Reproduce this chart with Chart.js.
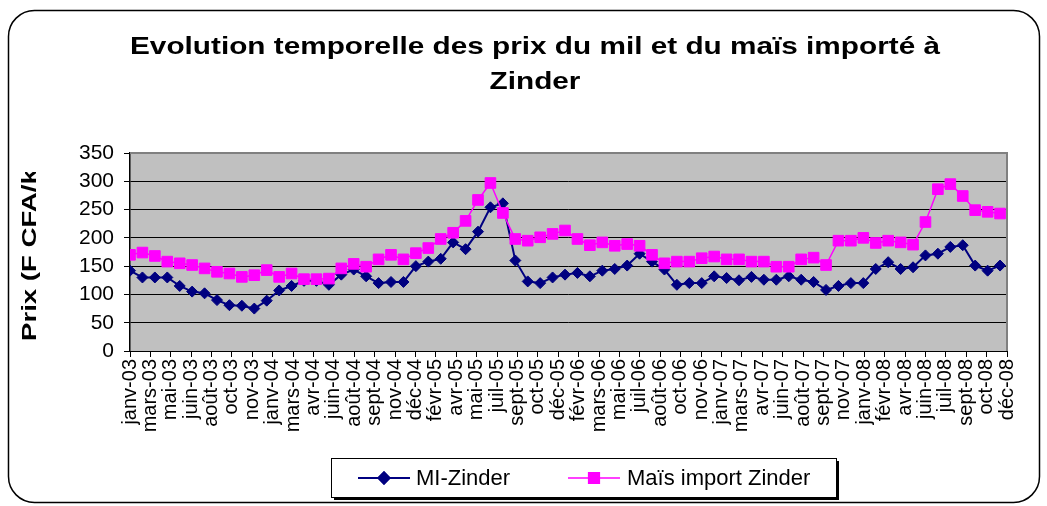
<!DOCTYPE html>
<html><head><meta charset="utf-8">
<script src="https://cdn.jsdelivr.net/npm/chart.js@4/dist/chart.umd.min.js"></script>
<style>html,body{margin:0;padding:0;background:#fff;overflow:hidden}#wrap{width:1047px;height:506px}</style>
</head><body><div id="wrap"><canvas id="c" width="1047" height="506"></canvas></div>
<script>
const titleLines = ['Evolution temporelle des prix du mil et du maïs importé à', 'Zinder'];
const yAxisTitle = 'Prix (F CFA/kg)';
const seriesNames = ['MI-Zinder', 'Maïs import Zinder'];
const months = [
 'janv-03','févr-03','mars-03','avr-03','mai-03','juin-03','juil-03','août-03','sept-03','oct-03','nov-03','déc-03',
 'janv-04','févr-04','mars-04','avr-04','mai-04','juin-04','juil-04','août-04','sept-04','oct-04','nov-04','déc-04',
 'janv-05','févr-05','mars-05','avr-05','mai-05','juin-05','juil-05','août-05','sept-05','oct-05','nov-05','déc-05',
 'janv-06','févr-06','mars-06','avr-06','mai-06','juin-06','juil-06','août-06','sept-06','oct-06','nov-06','déc-06',
 'janv-07','févr-07','mars-07','avr-07','mai-07','juin-07','juil-07','août-07','sept-07','oct-07','nov-07','déc-07',
 'janv-08','févr-08','mars-08','avr-08','mai-08','juin-08','juil-08','août-08','sept-08','oct-08','nov-08'];
const tickLabels = ['janv-03','mars-03','mai-03','juin-03','août-03','oct-03','nov-03','janv-04','mars-04','avr-04','juin-04',
 'août-04','sept-04','nov-04','déc-04','févr-05','avr-05','mai-05','juil-05','sept-05','oct-05','déc-05','févr-06','mars-06',
 'mai-06','juil-06','août-06','oct-06','nov-06','janv-07','mars-07','avr-07','juin-07','août-07','sept-07','nov-07','janv-08',
 'févr-08','avr-08','juin-08','juil-08','sept-08','oct-08','déc-08'];
const milZinder = [142,130,130,130,115,105,102,90,81,80,75,89,
 107,115,124,124,117,135,144,132,120,122,122,150,
 158,163,192,180,211,254,261,160,123,120,130,135,
 138,132,142,145,151,172,158,144,117,120,120,132,
 129,125,131,126,126,132,126,122,108,115,120,120,
 145,157,145,148,169,172,184,187,151,142,151];
const maisImportZinder = [170,174,168,158,155,152,146,140,137,131,134,143,
 131,137,127,127,128,146,154,149,162,170,162,173,
 182,198,209,230,267,297,244,198,195,201,207,213,
 198,187,192,186,189,186,170,155,158,158,164,167,
 162,162,158,158,149,149,162,165,152,195,195,200,
 191,195,192,188,228,286,295,274,249,246,243];
const yMin = 0, yMax = 350, yStep = 50;

const FONT = 'Liberation Sans, Arial, sans-serif';
const xMax = (months.length - 1) + 0.56;

const decor = {
  id: 'decor',
  beforeDraw(chart) {
    const ctx = chart.ctx, a = chart.chartArea;
    ctx.save();
    ctx.fillStyle = '#fff';
    ctx.fillRect(0, 0, chart.width, chart.height);
    ctx.strokeStyle = '#000'; ctx.lineWidth = 1.5;
    ctx.beginPath();
    ctx.roundRect(8.5, 10.5, 1031, 492, 26);
    ctx.stroke();
    ctx.fillStyle = '#C0C0C0';
    ctx.fillRect(a.left, a.top, a.right - a.left, a.bottom - a.top);
    ctx.restore();
  },
  beforeDatasetsDraw(chart) {
    const ctx = chart.ctx, a = chart.chartArea;
    ctx.save();
    ctx.strokeStyle = '#808080'; ctx.lineWidth = 2;
    ctx.beginPath();
    ctx.moveTo(a.left, a.top); ctx.lineTo(a.right, a.top); ctx.lineTo(a.right, a.bottom);
    ctx.stroke();
    ctx.restore();
  },
  afterDraw(chart) {
    const ctx = chart.ctx;
    ctx.save();
    ctx.fillStyle = '#000';
    ctx.font = 'bold 24px ' + FONT;
    ctx.textAlign = 'center'; ctx.textBaseline = 'middle';
    const w = ctx.measureText(titleLines[0]).width;
    const sx = 810 / w;
    [[titleLines[0], 47], [titleLines[1], 82]].forEach(([t, y]) => {
      ctx.save(); ctx.translate(535, y); ctx.scale(sx, 1); ctx.fillText(t, 0, 0); ctx.restore();
    });
    // y axis title (clipped at top like the reference)
    ctx.save();
    ctx.beginPath(); ctx.rect(0, 172, 120, 200); ctx.clip();
    ctx.translate(30, 341); ctx.rotate(-Math.PI / 2); ctx.scale(1.38, 1);
    ctx.font = 'bold 20px ' + FONT; ctx.textAlign = 'left'; ctx.textBaseline = 'middle';
    ctx.fillText(yAxisTitle, 0, 0);
    ctx.restore();
    // legend
    const bx = 331, by = 458, bw = 505, bh = 39;
    ctx.fillStyle = '#000';
    ctx.fillRect(bx + 3, by + 3, bw, bh);
    ctx.fillStyle = '#fff';
    ctx.fillRect(bx, by, bw, bh);
    ctx.strokeStyle = '#000'; ctx.lineWidth = 1;
    ctx.strokeRect(bx + 0.5, by + 0.5, bw, bh);
    const ly = 478;
    const ds = chart.data.datasets;
    const entries = [[358, 410, 416], [568, 620, 627]];
    entries.forEach(([x0, x1, tx], i) => {
      const d = ds[i];
      ctx.strokeStyle = d.borderColor; ctx.lineWidth = d.borderWidth;
      ctx.beginPath(); ctx.moveTo(x0, ly); ctx.lineTo(x1, ly); ctx.stroke();
      Chart.helpers.drawPoint(ctx, {pointStyle: d.pointStyle, radius: d.pointRadius, borderWidth: 1, rotation: 0}, (x0 + x1) / 2, ly);
      ctx.fillStyle = d.borderColor;
      ctx.strokeStyle = d.borderColor;
      ctx.fill(); ctx.stroke();
      ctx.fillStyle = '#000';
      ctx.font = '22px ' + FONT; ctx.textAlign = 'left'; ctx.textBaseline = 'middle';
      ctx.fillText(d.label, tx, ly + 1);
    });
    ctx.restore();
  }
};

new Chart(document.getElementById('c'), {
  type: 'line',
  data: {
    datasets: [
      { label: seriesNames[0], data: milZinder.map((v, i) => ({x: i, y: v})),
        borderColor: '#000080', backgroundColor: '#000080', borderWidth: 2,
        pointStyle: 'rectRot', pointRadius: 5.5, pointBorderWidth: 1, order: 1, tension: 0 },
      { label: seriesNames[1], data: maisImportZinder.map((v, i) => ({x: i, y: v})),
        borderColor: '#FF00FF', backgroundColor: '#FF00FF', borderWidth: 1.5,
        pointStyle: 'rect', pointRadius: 7.5, pointBorderWidth: 1, order: 0, tension: 0 }
    ]
  },
  options: {
    responsive: false, animation: false, devicePixelRatio: 1,
    layout: { padding: { top: 153, right: 40, bottom: 0, left: 0 } },
    plugins: { legend: { display: false }, title: { display: false }, tooltip: { enabled: false } },
    scales: {
      x: {
        type: 'linear', min: 0, max: xMax,
        afterBuildTicks: s => { s.ticks = tickLabels.map((t, i) => ({ value: i * xMax / (tickLabels.length - 1) })); },
        afterFit: s => { s.height = 155; },
        ticks: { autoSkip: false, minRotation: 90, maxRotation: 90, padding: 2, color: '#000',
          font: { family: FONT, size: 20 }, callback: (v, i) => tickLabels[i] },
        grid: { drawOnChartArea: false, drawTicks: true, tickLength: 6, color: '#000' },
        border: { color: '#000', width: 1 }
      },
      y: {
        min: yMin, max: yMax,
        afterFit: s => { s.width = 130; },
        ticks: { stepSize: yStep, padding: 10, color: '#000', font: { family: FONT, size: 21 } },
        grid: { color: '#000', lineWidth: 1, tickLength: 6 },
        border: { color: '#000', width: 1.5 }
      }
    }
  },
  plugins: [decor]
});
</script>
</body></html>
